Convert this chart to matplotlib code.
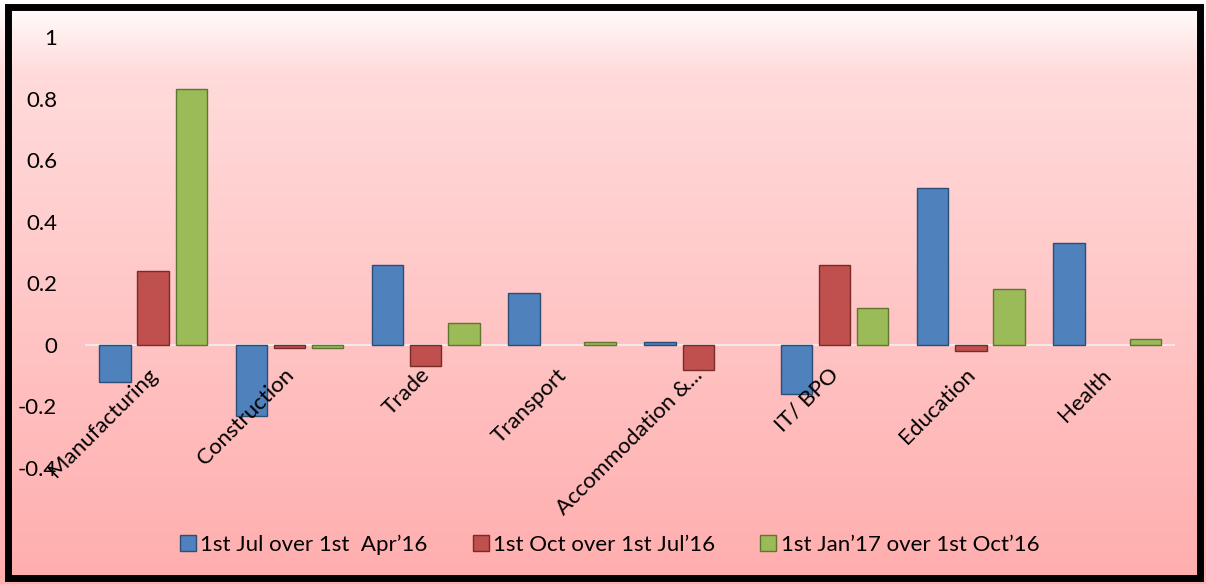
import numpy as np
import matplotlib.pyplot as plt
from matplotlib.patches import Rectangle
from matplotlib.lines import Line2D

plt.rcParams['font.family'] = ['Lato', 'DejaVu Sans']

categories = ["Manufacturing", "Construction", "Trade", "Transport",
              "Accommodation &...", "IT/ BPO", "Education", "Health"]
series_names = ["1st Jul over 1st  Apr\u201916",
                "1st Oct over 1st Jul\u201916",
                "1st Jan\u201917 over 1st Oct\u201916"]
jul_over_apr = [-0.12, -0.23, 0.26, 0.17, 0.01, -0.16, 0.51, 0.33]
oct_over_jul = [0.24, -0.01, -0.07, 0.0, -0.08, 0.26, -0.02, 0.0]
jan_over_oct = [0.83, -0.01, 0.07, 0.01, 0.0, 0.12, 0.18, 0.02]
y_ticks = [1, 0.8, 0.6, 0.4, 0.2, 0, -0.2, -0.4]

colors = ["#4F81BD", "#C0504D", "#9BBB59"]
edges = ["#2C4D75", "#772C2A", "#5F7530"]

fig = plt.figure(figsize=(12.06, 5.84), dpi=100)

# background gradient, white at top to pink at the bottom
bg = fig.add_axes([0, 0, 1, 1], zorder=0)
grad = np.linspace(0, 1, 256).reshape(-1, 1)
top = np.array([1.0, 1.0, 1.0])
mid = np.array([1.0, 0.86, 0.86])
bot = np.array([1.0, 0.68, 0.68])
img = np.where(grad < 0.12, top + (mid - top) * (grad / 0.12),
               mid + (bot - mid) * ((grad - 0.12) / 0.88))
img = img.reshape(256, 1, 3)
bg.imshow(img, aspect='auto', extent=[0, 1, 0, 1], origin='upper')
bg.set_xlim(0, 1)
bg.set_ylim(0, 1)
bg.axis('off')
bg.add_patch(Rectangle((0.007, 0.01), 0.988, 0.978, fill=False,
                       edgecolor='black', linewidth=5))

ax = fig.add_axes([0.0705, 0.1986, 0.904, 0.738], zorder=1)
ax.patch.set_alpha(0)

x = np.arange(len(categories))
w = 0.23
step = 0.28
for k, vals in enumerate([jul_over_apr, oct_over_jul, jan_over_oct]):
    h = np.array(vals, dtype=float)
    h[h == 0] = np.nan  # zero values draw nothing
    ax.bar(x + (k - 1) * step, h, width=w, color=colors[k],
           edgecolor=edges[k], linewidth=1, zorder=3)

ax.axhline(0, color='#F4E8E8', linewidth=1.5, zorder=2)
ax.set_xlim(-0.5, len(categories) - 0.5)
ax.set_ylim(-0.4, 1.0)
ax.set_yticks(y_ticks)
ax.set_yticklabels([f"{t:g}" for t in y_ticks], fontsize=16)
ax.tick_params(axis='y', length=0, pad=20)
ax.set_xticks([])
for s in ax.spines.values():
    s.set_visible(False)

for i, name in enumerate(categories):
    ax.annotate(name, xy=(i, 0), xytext=(-6, -20), textcoords='offset pixels',
                rotation=45, rotation_mode='anchor', ha='right', va='top',
                fontsize=16, zorder=4)

handles = [Line2D([], [], marker='s', linestyle='none', markersize=11,
                  markerfacecolor=colors[k], markeredgecolor=edges[k])
           for k in range(3)]
fig.legend(handles, series_names, loc='center', bbox_to_anchor=(0.505, 0.067),
           ncol=3, frameon=False, fontsize=16, handletextpad=0.15,
           columnspacing=2.0, handlelength=0.8)

fig.savefig("out.png", dpi=100)
